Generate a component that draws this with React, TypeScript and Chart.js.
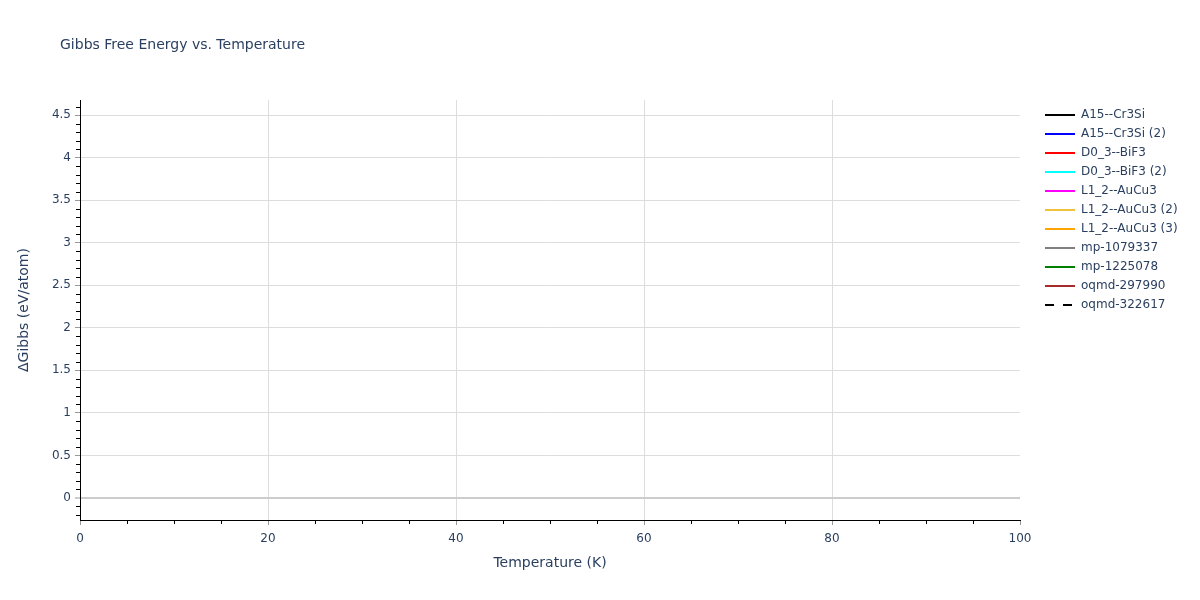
import { useEffect, useRef } from "react";
import { Chart, registerables, type ChartConfiguration, type Plugin } from "chart.js";

Chart.register(...registerables);

const FONT = '"DejaVu Sans", Verdana, sans-serif';
const TEXT = "#2a3f5f";

const chartTitle = "Gibbs Free Energy vs. Temperature";
const xTitle = "Temperature (K)";
const yTitle = "ΔGibbs (eV/atom)";

// axes
const xRange = [0, 100];
const yRange = [-0.26, 4.68];
const xSteps = [20, 5]; // major, minor
const ySteps = [0.5, 0.1];

// series: the source plot only shows the legend, no points are drawn
const seriesNames = [
  "A15--Cr3Si",
  "A15--Cr3Si (2)",
  "D0_3--BiF3",
  "D0_3--BiF3 (2)",
  "L1_2--AuCu3",
  "L1_2--AuCu3 (2)",
  "L1_2--AuCu3 (3)",
  "mp-1079337",
  "mp-1225078",
  "oqmd-297990",
  "oqmd-322617",
];
const seriesColors = [
  "#000000",
  "#0000ff",
  "#ff0000",
  "#00ffff",
  "#ff00ff",
  "#f0c23a",
  "#ffa500",
  "#808080",
  "#008000",
  "#a52a2a",
  "#000000",
];
const seriesDashed = [false, false, false, false, false, false, false, false, false, false, true];
const temperature: number[] = [];
const gibbs: number[][] = seriesNames.map(() => []);

// plotly-like minor ticks outside the axes
const minorTicks: Plugin = {
  id: "minorTicks",
  afterDraw(chart) {
    const { ctx, chartArea } = chart;
    const x = chart.scales.x;
    const y = chart.scales.y;
    ctx.save();
    ctx.strokeStyle = "#000";
    ctx.lineWidth = 1;
    ctx.beginPath();
    const ratioX = Math.round(xSteps[0] / xSteps[1]);
    for (let k = Math.ceil(xRange[0] / xSteps[1]); k <= Math.floor(xRange[1] / xSteps[1]); k++) {
      if (k % ratioX === 0) continue;
      const px = Math.round(x.getPixelForValue(k * xSteps[1])) + 0.5;
      ctx.moveTo(px, chartArea.bottom);
      ctx.lineTo(px, chartArea.bottom + 4);
    }
    const ratioY = Math.round(ySteps[0] / ySteps[1]);
    for (let k = Math.ceil(yRange[0] / ySteps[1]); k <= Math.floor(yRange[1] / ySteps[1]); k++) {
      if (k % ratioY === 0) continue;
      const py = Math.round(y.getPixelForValue(k * ySteps[1])) + 0.5;
      ctx.moveTo(chartArea.left - 4, py);
      ctx.lineTo(chartArea.left, py);
    }
    ctx.stroke();
    ctx.restore();
  },
};

const plotTitle: Plugin = {
  id: "plotTitle",
  afterDraw(chart) {
    const { ctx, chartArea } = chart;
    ctx.save();
    ctx.font = `14px ${FONT}`;
    ctx.fillStyle = TEXT;
    ctx.textBaseline = "middle";
    ctx.fillText(chartTitle, chartArea.left - 20, 45);
    ctx.restore();
  },
};

// fixed legend column on the right, with a gap after the plot
const legendBox: Plugin = {
  id: "legendBox",
  beforeLayout(chart) {
    const lg: any = chart.legend;
    if (!lg || lg.__fixed) return;
    const fit = lg.fit.bind(lg);
    lg.fit = () => {
      fit();
      lg.width = 180;
    };
    lg.__fixed = true;
  },
  afterLayout(chart) {
    const lg: any = chart.legend;
    if (!lg) return;
    lg.left += 18;
    lg.right += 18;
    lg.top += 2;
  },
};

const App = () => {
  const chartRef = useRef<HTMLCanvasElement | null>(null);
  const chartInstance = useRef<Chart | null>(null);

  useEffect(() => {
    document.body.style.margin = "0";
    if (!chartRef.current) return;

    const config: ChartConfiguration<"line"> = {
      type: "line",
      data: {
        datasets: seriesNames.map((name, i) => ({
          label: name,
          data: temperature.map((t, j) => ({ x: t, y: gibbs[i][j] })),
          borderColor: seriesColors[i],
          backgroundColor: seriesColors[i],
          borderWidth: 2,
          borderDash: seriesDashed[i] ? [9, 9] : [],
          pointRadius: 0,
          fill: false,
        })),
      },
      options: {
        responsive: false,
        animation: false,
        layout: { padding: { top: 100, right: 0, bottom: 0, left: 0 } },
        plugins: {
          title: { display: false },
          tooltip: { enabled: false },
          legend: {
            position: "right",
            align: "start",
            labels: {
              usePointStyle: true,
              pointStyle: "line",
              pointStyleWidth: 30,
              boxHeight: 12,
              padding: 7,
              color: TEXT,
              font: { family: FONT, size: 12 },
              generateLabels: (chart) =>
                Chart.defaults.plugins.legend.labels.generateLabels(chart).map((item) => {
                  const i = item.datasetIndex ?? 0;
                  return {
                    ...item,
                    strokeStyle: seriesColors[i],
                    fillStyle: seriesColors[i],
                    lineWidth: 2,
                    lineDash: seriesDashed[i] ? [9, 9] : [],
                  };
                }),
            },
          },
        },
        scales: {
          x: {
            type: "linear",
            min: xRange[0],
            max: xRange[1],
            afterFit: (s) => {
              s.height = 80;
            },
            ticks: {
              stepSize: xSteps[0],
              padding: 7,
              color: TEXT,
              font: { family: FONT, size: 12 },
            },
            grid: {
              color: (c) => (c.tick && c.tick.value === xRange[1] ? "rgba(0,0,0,0)" : "#dddddd"),
              tickColor: "#999999",
              tickLength: 5,
              tickWidth: 1,
            },
            border: { color: "#000000", width: 1 },
            title: {
              display: true,
              text: xTitle,
              color: TEXT,
              font: { family: FONT, size: 14 },
              padding: { top: 0, bottom: 28 },
            },
          },
          y: {
            type: "linear",
            min: yRange[0],
            max: yRange[1],
            afterFit: (s) => {
              s.width = 80;
            },
            ticks: {
              stepSize: ySteps[0],
              includeBounds: false,
              padding: 4,
              color: TEXT,
              font: { family: FONT, size: 12 },
              callback: (v) => String(Math.round(Number(v) * 10) / 10),
            },
            grid: {
              color: (c) => (c.tick && c.tick.value === 0 ? "#cccccc" : "#dddddd"),
              lineWidth: (c) => (c.tick && c.tick.value === 0 ? 2 : 1),
              tickColor: "#999999",
              tickLength: 5,
              tickWidth: 1,
            },
            border: { color: "#000000", width: 1 },
            title: {
              display: true,
              text: yTitle,
              color: TEXT,
              font: { family: FONT, size: 14 },
              padding: { top: 16, bottom: 0 },
            },
          },
        },
      },
      plugins: [minorTicks, plotTitle, legendBox],
    };

    chartInstance.current = new Chart(chartRef.current, config);

    return () => {
      chartInstance.current?.destroy();
    };
  }, []);

  return (
    <div style={{ width: 1200, height: 600, background: "#ffffff" }}>
      <canvas ref={chartRef} width={1200} height={600}></canvas>
    </div>
  );
};

export default App;
